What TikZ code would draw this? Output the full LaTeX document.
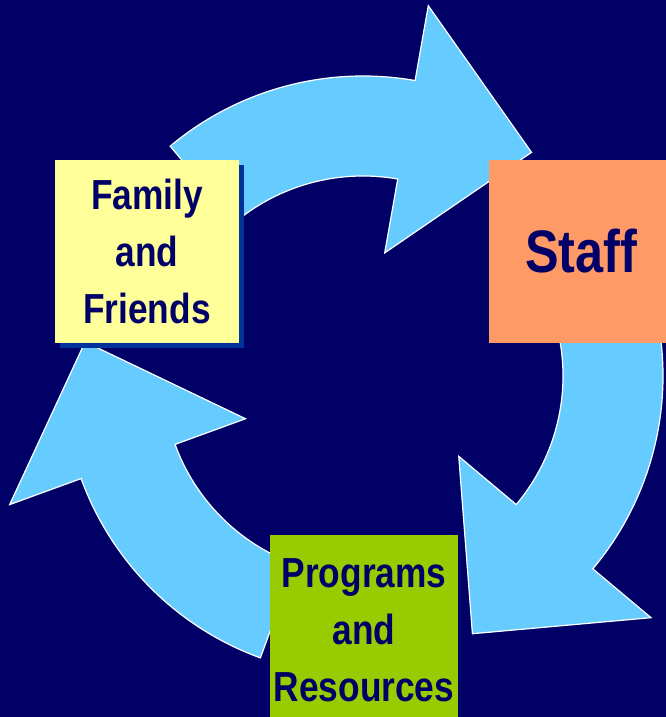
\documentclass[tikz,border=0pt]{standalone}
\usepackage{fontspec}
\usepackage{tikz}
\usetikzlibrary{shadows}
\newfontfamily\narrowfont{Liberation Sans}[FakeStretch=0.84]
\definecolor{bgnavy}{HTML}{000066}
\definecolor{arrowblue}{HTML}{66CCFF}
\definecolor{familyyellow}{HTML}{FFFF99}
\definecolor{staffsalmon}{HTML}{FF9966}
\definecolor{programgreen}{HTML}{99CC00}
\definecolor{shadowblue}{HTML}{003399}

\begin{document}
\begin{tikzpicture}[x=1pt,y=1pt]
            \clip (0,0) rectangle (666,717);
            \fill[bgnavy] (0,0) rectangle (666,717);

            \begin{scope}[shift={(363,341)}]
            \draw[fill=arrowblue,draw=white,line width=1.2pt] (130:300pt) arc[start angle=130,end angle=80,radius=300pt] -- (80:376pt) -- (53:280pt) -- (80:125pt) -- (80:200pt) arc[start angle=80,end angle=130,radius=200pt] -- cycle;
            \draw[fill=arrowblue,draw=white,line width=1.2pt] (10:300pt) arc[start angle=10,end angle=-40,radius=300pt] -- (-40:376pt) -- (-67:280pt) -- (-40:125pt) -- (-40:200pt) arc[start angle=-40,end angle=10,radius=200pt] -- cycle;
            \draw[fill=arrowblue,draw=white,line width=1.2pt] (-110:300pt) arc[start angle=-110,end angle=-160,radius=300pt] -- (-160:376pt) -- (-187:280pt) -- (-160:125pt) -- (-160:200pt) arc[start angle=-160,end angle=-110,radius=200pt] -- cycle;
            \end{scope}

            \node[fill=familyyellow,minimum width=184pt,minimum height=183pt,align=center,text=bgnavy,font={\narrowfont\bfseries\fontsize{42}{57}\selectfont},drop shadow={shadow xshift=5pt,shadow yshift=-5pt,fill=shadowblue,opacity=1}] (family) at (147,465.5) {Family\\and\\Friends};
            \node[fill=staffsalmon,minimum width=184pt,minimum height=183pt,align=center,text=bgnavy,font={\narrowfont\bfseries\fontsize{60}{72}\selectfont}] (staff) at (581,465.5) {Staff};
            \node[fill=programgreen,minimum width=184pt,minimum height=190pt,align=center,text=bgnavy,font={\narrowfont\bfseries\fontsize{42}{57}\selectfont}] (programs) at (364,87) {Programs\\and\\Resources};
        \end{tikzpicture}
\end{document}
